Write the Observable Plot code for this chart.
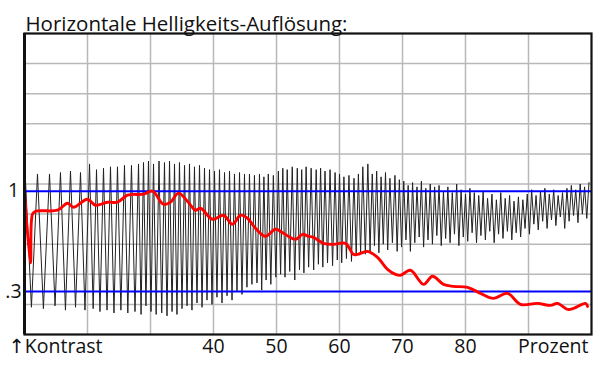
<!DOCTYPE html>
<html><head><meta charset="utf-8">
<script src="https://cdn.jsdelivr.net/npm/d3@7"></script>
<script src="https://cdn.jsdelivr.net/npm/@observablehq/plot@0.6"></script>
<style>body{margin:0;background:#fff;} svg{overflow:visible}</style>
</head><body><div id="chart"></div>
<script>
const title = "Horizontale Helligkeits-Auflösung:";
const xTicks = [40, 50, 60, 70, 80];
const xGrid = [20, 30, 40, 50, 60, 70, 80, 90];
const yGrid = [0.21, 0.42, 0.63, 0.84, 1.05, 1.26, 1.47, 1.68, 1.89];
const refLevels = [1, 0.3];
const refLabels = ["1", ".3"];
const leftLabel = "↑Kontrast";
const rightLabel = "Prozent";

// black sweep signal: maxima and minima (x in Prozent, y in contrast units)
const peakX = [10.15, 12.06, 13.97, 15.71, 17.3, 18.89, 20.32,
  21.43, 22.54, 23.65, 24.76, 25.87, 26.98, 28.1,
  28.89, 29.68, 30.48, 31.35, 32.22, 33.02, 33.81, 34.6, 35.4, 36.19, 36.98, 37.78, 38.57, 39.37, 40.16, 40.95, 41.75, 42.54, 43.33, 44.13, 44.92, 45.71,
  46.5, 47.3, 48.0, 48.7, 49.5, 50.3, 51.0, 51.7, 52.5, 53.3, 54.0, 54.7, 55.5, 56.3, 57.0, 57.7, 58.5, 59.3, 60.0, 60.7, 61.5, 62.3, 63.0, 63.7,
  64.5, 65.2, 65.9, 66.6, 67.3, 68.0, 68.8, 69.5, 70.2, 70.9, 71.6, 72.3, 73.0, 73.7, 74.4, 75.1, 75.8, 76.5, 77.2, 77.9, 78.6, 79.3, 80.0, 80.7, 81.4, 82.1, 82.8, 83.5, 84.2, 84.9, 85.6, 86.3, 87.0, 87.7, 88.4, 89.1, 89.8, 90.5, 91.2, 91.9, 92.6, 93.3, 94.0, 94.7, 95.4, 96.1, 96.8, 97.5, 98.2, 98.9, 99.6];
const peakY = [1.08, 1.12, 1.12, 1.13, 1.14, 1.13, 1.19,
  1.15, 1.16, 1.17, 1.17, 1.18, 1.18, 1.19,
  1.20, 1.21, 1.19, 1.21, 1.20, 1.21, 1.19, 1.20, 1.18, 1.19, 1.17, 1.18, 1.16, 1.15, 1.14, 1.15, 1.13, 1.14, 1.12, 1.13, 1.12, 1.12,
  1.11, 1.12, 1.10, 1.12, 1.11, 1.14, 1.16, 1.15, 1.17, 1.16, 1.15, 1.17, 1.16, 1.15, 1.16, 1.14, 1.15, 1.13, 1.12, 1.10, 1.11, 1.09, 1.12, 1.17,
  1.19, 1.12, 1.14, 1.10, 1.13, 1.09, 1.11, 1.08, 1.07, 1.04, 1.06, 1.03, 1.07, 1.02, 1.05, 1.03, 1.04, 1.00, 1.03, 0.99, 1.05, 1.01, 0.98, 1.02, 0.99, 0.97, 1.00, 0.95, 0.98, 0.94, 0.99, 0.95, 0.97, 0.93, 0.96, 0.94, 0.98, 1.01, 0.97, 1.00, 1.02, 0.98, 1.01, 0.97, 0.99, 1.02, 1.04, 1.01, 1.05, 1.03, 1.06];
const troughX = [11.1, 13.0, 14.85, 16.5, 18.1, 19.6, 20.9,
  21.98, 23.1, 24.2, 25.3, 26.4, 27.54, 28.5,
  29.28, 30.08, 30.9, 31.78, 32.62, 33.42, 34.2, 35.0, 35.8, 36.58, 37.38, 38.18, 38.97, 39.76, 40.55, 41.35, 42.15, 42.94, 43.73, 44.52, 45.31, 46.1,
  46.9, 47.65, 48.35, 49.1, 49.9, 50.65, 51.35, 52.1, 52.9, 53.65, 54.35, 55.1, 55.9, 56.65, 57.35, 58.1, 58.9, 59.65, 60.35, 61.1, 61.9, 62.65, 63.35, 64.1,
  64.85, 65.55, 66.25, 66.95, 67.65, 68.4, 69.15, 69.85, 70.55, 71.25, 71.95, 72.65, 73.35, 74.05, 74.75, 75.45, 76.15, 76.85, 77.55, 78.25, 78.95, 79.65, 80.35, 81.05, 81.75, 82.45, 83.15, 83.85, 84.55, 85.25, 85.95, 86.65, 87.35, 88.05, 88.75, 89.45, 90.15, 90.85, 91.55, 92.25, 92.95, 93.65, 94.35, 95.05, 95.75, 96.45, 97.15, 97.85, 98.55, 99.25];
const troughY = [0.19, 0.18, 0.20, 0.17, 0.19, 0.17, 0.18,
  0.16, 0.17, 0.15, 0.17, 0.15, 0.16, 0.14,
  0.20, 0.16, 0.14, 0.15, 0.13, 0.16, 0.14, 0.18, 0.20, 0.17, 0.22, 0.19, 0.24, 0.21, 0.26, 0.22, 0.27, 0.24, 0.30, 0.28, 0.33, 0.35,
  0.36, 0.31, 0.38, 0.35, 0.40, 0.42, 0.40, 0.44, 0.38, 0.45, 0.43, 0.47, 0.45, 0.49, 0.47, 0.50, 0.48, 0.52, 0.50, 0.53, 0.51, 0.55, 0.57, 0.56,
  0.58, 0.62, 0.57, 0.63, 0.59, 0.64, 0.58, 0.61, 0.66, 0.58, 0.64, 0.68, 0.61, 0.66, 0.63, 0.69, 0.62, 0.67, 0.64, 0.70, 0.62, 0.68, 0.65, 0.71, 0.64, 0.69, 0.66, 0.72, 0.64, 0.70, 0.67, 0.72, 0.66, 0.71, 0.68, 0.74, 0.70, 0.77, 0.73, 0.79, 0.74, 0.80, 0.76, 0.82, 0.74, 0.79, 0.83, 0.78, 0.84, 0.81];

// red contrast curve
const contrastX = [10.0, 10.95, 11.27, 11.75, 15.24, 16.83, 17.78, 20.0, 21.27, 23.17, 24.76, 26.35, 28.89, 30.32, 32.06, 33.17, 34.44, 35.87, 37.14, 37.94, 39.84, 41.59, 43.02, 44.29, 45.4, 46.67, 48.25, 49.84, 51.11, 53.02, 54.13, 55.08, 55.87, 57.46, 59.05, 60.95, 62.22, 62.86, 64.44, 66.03, 67.62, 68.89, 69.68, 71.27, 73.33, 74.76, 76.51, 78.1, 80.32, 82.38, 84.44, 86.67, 88.73, 91.43, 93.49, 94.6, 96.19, 97.14, 99.05, 99.37];
const contrastY = [1.0, 0.50, 0.84, 0.86, 0.867, 0.916, 0.888, 0.944, 0.902, 0.923, 0.923, 0.972, 0.979, 1.0, 0.909, 0.923, 0.986, 0.93, 0.867, 0.881, 0.804, 0.832, 0.769, 0.832, 0.811, 0.741, 0.685, 0.734, 0.706, 0.664, 0.699, 0.685, 0.678, 0.636, 0.629, 0.636, 0.559, 0.559, 0.58, 0.538, 0.455, 0.42, 0.413, 0.448, 0.35, 0.406, 0.35, 0.336, 0.329, 0.287, 0.252, 0.287, 0.21, 0.217, 0.203, 0.217, 0.175, 0.182, 0.217, 0.196];

const wave = peakX.map((x, i) => ({x, y: peakY[i]}))
  .concat(troughX.map((x, i) => ({x, y: troughY[i]})))
  .sort((a, b) => a.x - b.x);
const contrast = contrastX.map((x, i) => ({x, y: contrastY[i]}));

const fs = 19.5;
const chart = Plot.plot({
  width: 600, height: 378,
  marginLeft: 24, marginRight: 9, marginTop: 33, marginBottom: 44,
  style: {fontFamily: "'Open Sans', 'DejaVu Sans', sans-serif", background: "#fff", color: "#111"},
  x: {domain: [10, 100], axis: null},
  y: {domain: [0, 2.1], axis: null},
  marks: [
    Plot.ruleX(xGrid, {x: d => d, stroke: "#b8b8b8", strokeWidth: 1.5}),
    Plot.ruleY(yGrid, {y: d => d, stroke: "#b8b8b8", strokeWidth: 1.5}),
    Plot.line(wave, {x: "x", y: "y", stroke: "#222", strokeWidth: 1, clip: true}),
    Plot.ruleY(refLevels, {y: d => d, stroke: "#0000ff", strokeWidth: 2}),
    Plot.line(contrast, {x: "x", y: "y", stroke: "#ff0000", strokeWidth: 2.9, strokeLinejoin: "round", curve: "catmull-rom", clip: true}),
    Plot.frame({stroke: "#111", strokeWidth: 2.2}),
    Plot.ruleX([10], {x: d => d, stroke: "#111", strokeWidth: 3}),
    Plot.text([title], {text: d => d, frameAnchor: "top-left", textAnchor: "start", dx: 1, dy: -17, fontSize: 20.5, fill: "#111"}),
    Plot.text(refLevels, {y: d => d, text: (d, i) => refLabels[i], frameAnchor: "left", textAnchor: "middle", dx: -11, fontSize: fs, fill: "#111"}),
    Plot.text(xTicks, {x: d => d, text: d => String(d), frameAnchor: "bottom", dy: 18, fontSize: fs, fill: "#111"}),
    Plot.text([leftLabel], {text: d => d, frameAnchor: "bottom-left", textAnchor: "start", dx: -16, dy: 18, fontSize: fs, fill: "#111"}),
    Plot.text([rightLabel], {text: d => d, frameAnchor: "bottom-right", textAnchor: "end", dx: -3, dy: 18, fontSize: fs, fill: "#111"})
  ]
});
document.getElementById("chart").appendChild(chart);
</script>
</body></html>
